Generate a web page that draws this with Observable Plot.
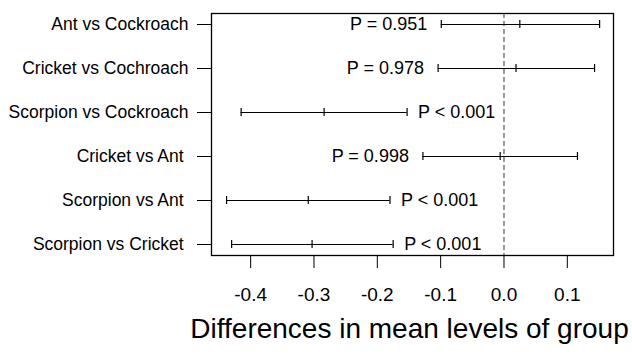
<!DOCTYPE html>
<html><head><meta charset="utf-8">
<script src="https://cdn.jsdelivr.net/npm/d3@7"></script>
<script src="https://cdn.jsdelivr.net/npm/@observablehq/plot@0.6"></script>
<style>
body{margin:0;background:#fff}
svg text{white-space:pre}
</style></head><body><div id="chart"></div>
<script>
const comparisons = ["Ant vs Cockroach", "Cricket vs Cochroach", "Scorpion vs Cockroach", "Cricket vs Ant ", "Scorpion vs Ant ", "Scorpion vs Cricket "];
const diff  = [0.025, 0.019, -0.284, -0.006, -0.309, -0.303];
const lower = [-0.099, -0.104, -0.415, -0.128, -0.438, -0.430];
const upper = [0.151, 0.143, -0.153, 0.116, -0.180, -0.175];
const pLabels = ["P = 0.951", "P = 0.978", "P < 0.001", "P = 0.998", "P < 0.001", "P < 0.001"];
const xTicks = [-0.4, -0.3, -0.2, -0.1, 0.0, 0.1];
const xTitle = "Differences in mean levels of group";

const rows = comparisons.map((c, i) => ({comp: c, diff: diff[i], lwr: lower[i], upr: upper[i], p: pLabels[i]}));
const eqRows = rows.filter(d => d.p.startsWith("P ="));
const ltRows = rows.filter(d => !d.p.startsWith("P ="));
const ends = rows.flatMap(d => [{comp: d.comp, v: d.lwr}, {comp: d.comp, v: d.diff}, {comp: d.comp, v: d.upr}]);

const chart = Plot.plot({
  width: 632,
  height: 354,
  marginLeft: 211,
  marginRight: 19,
  marginTop: 13,
  marginBottom: 99,
  style: {fontFamily: "'Liberation Sans', Arial, Helvetica, sans-serif", color: "#000", background: "#fff"},
  x: {domain: [-0.4618, 0.1729]},
  y: {type: "band", domain: comparisons, paddingInner: 0.82, paddingOuter: 0.106},
  marks: [
    Plot.frame({stroke: "#000", strokeWidth: 1.3}),
    Plot.ruleX([0], {stroke: "#333", strokeDasharray: "5,3", strokeWidth: 1}),
    Plot.ruleY(rows, {y: "comp", x1: "lwr", x2: "upr", stroke: "#000", strokeWidth: 1.2}),
    Plot.tickX(ends, {x: "v", y: "comp", stroke: "#000", strokeWidth: 1.2}),
    Plot.text(eqRows, {x: "lwr", y: "comp", text: "p", textAnchor: "end", dx: -14, fontSize: 18, fill: "#000"}),
    Plot.text(ltRows, {x: "upr", y: "comp", text: "p", textAnchor: "start", dx: 11, fontSize: 18, fill: "#000"}),
    Plot.axisY({tickSize: 14, tickPadding: 9, fontSize: 17.5, label: null}),
    Plot.axisX({ticks: xTicks, tickFormat: d => d.toFixed(1), tickSize: 13, tickPadding: 19, fontSize: 19, label: null}),
    Plot.text([xTitle], {frameAnchor: "bottom", dy: 82, dx: -3, fontSize: 28, fill: "#000"})
  ]
});
document.getElementById("chart").appendChild(chart);
</script></body></html>
